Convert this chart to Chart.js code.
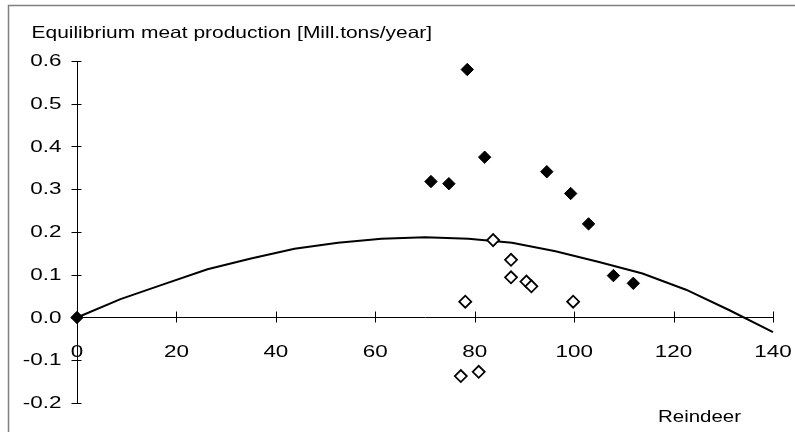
<!DOCTYPE html>
<html>
<head>
<meta charset="utf-8">
<script src="https://cdn.jsdelivr.net/npm/chart.js@4/dist/chart.umd.min.js"></script>
<style>
  html, body { margin: 0; padding: 0; background: #fff; }
  canvas { display: block; }
</style>
</head>
<body>
<canvas id="meat-chart" width="795" height="432"></canvas>
<script>
"use strict";

// Data
var curveX = [0, 8.75, 17.5, 26.25, 35, 43.75, 52.5, 61.25, 70, 78.75, 87.5, 96.25, 105, 113.75, 122.5, 131.25, 140];
var curveY = [0, 0.043, 0.078, 0.113, 0.138, 0.161, 0.175, 0.184, 0.188, 0.184, 0.175, 0.155, 0.130, 0.103, 0.065, 0.017, -0.034];

var filledX = [0, 71.2, 74.8, 78.5, 82.0, 94.5, 99.3, 102.9, 107.9, 111.9];
var filledY = [0, 0.318, 0.313, 0.580, 0.375, 0.341, 0.290, 0.219, 0.098, 0.080];

var openX = [83.7, 87.3, 87.3, 90.4, 91.4, 78.1, 99.8, 77.2, 80.8];
var openY = [0.181, 0.135, 0.094, 0.084, 0.073, 0.037, 0.037, -0.137, -0.127];

var xTicks = [0, 20, 40, 60, 80, 100, 120, 140];
var yTicks = [-0.2, -0.1, 0.0, 0.1, 0.2, 0.3, 0.4, 0.5, 0.6];

var yTitle = "Equilibrium meat production [Mill.tons/year]";
var xTitle = "Reindeer";

function toPoints(xs, ys) {
    return xs.map(function (x, i) { return { x: x, y: ys[i] }; });
}

// Excel-style text: wide glyphs, drawn with a horizontal stretch
function stretchText(ctx, text, x, y, align, baseline, sx) {
    ctx.save();
    ctx.translate(x, y);
    ctx.scale(sx, 1);
    ctx.textAlign = align;
    ctx.textBaseline = baseline;
    ctx.fillText(text, 0, 0);
    ctx.restore();
}

// Draws the frame, cross tick marks, tick labels and titles
var excelAxes = {
    id: "excelAxes",
    afterDraw: function (chart) {
        var ctx = chart.ctx;
        var xs = chart.scales.x;
        var ys = chart.scales.y;
        var x0 = Math.round(xs.getPixelForValue(0)) + 0.5;
        var y0 = Math.round(ys.getPixelForValue(0)) + 0.5;

        ctx.save();
        // outer frame (cut at right and bottom)
        ctx.strokeStyle = "#7f7f7f";
        ctx.lineWidth = 1.5;
        ctx.beginPath();
        ctx.moveTo(8.5, 432);
        ctx.lineTo(8.5, 5.5);
        ctx.lineTo(795, 5.5);
        ctx.stroke();

        // cross tick marks
        ctx.strokeStyle = "#000";
        ctx.lineWidth = 1;
        ctx.beginPath();
        yTicks.forEach(function (v) {
            var py = Math.round(ys.getPixelForValue(v)) + 0.5;
            ctx.moveTo(x0 - 6, py);
            ctx.lineTo(x0 + 4, py);
        });
        xTicks.forEach(function (v) {
            var px = Math.round(xs.getPixelForValue(v)) + 0.5;
            ctx.moveTo(px, y0 - 7);
            ctx.lineTo(px, y0 + 4);
        });
        ctx.stroke();

        // tick labels
        ctx.fillStyle = "#000";
        ctx.font = "16.5px 'Liberation Sans', Arial, sans-serif";
        yTicks.forEach(function (v) {
            stretchText(ctx, v.toFixed(1), x0 - 16, ys.getPixelForValue(v) + 0.5, "right", "middle", 1.36);
        });
        xTicks.forEach(function (v) {
            stretchText(ctx, String(v), xs.getPixelForValue(v), y0 + 38.5, "center", "alphabetic", 1.36);
        });

        // axis titles
        stretchText(ctx, yTitle, 31.5, 37.5, "left", "alphabetic", 1.27);
        stretchText(ctx, xTitle, 658, 421.5, "left", "alphabetic", 1.24);
        ctx.restore();
    }
};

var chart = new Chart(document.getElementById("meat-chart"), {
    type: "scatter",
    data: {
        datasets: [{
            label: "Open",
            data: toPoints(openX, openY),
            pointStyle: "rectRot",
            pointRadius: 6,
            pointBorderWidth: 1.8,
            pointBackgroundColor: "#fff",
            pointBorderColor: "#000",
            clip: false,
            order: 1
        }, {
            label: "Filled",
            data: toPoints(filledX, filledY),
            pointStyle: "rectRot",
            pointRadius: 6.2,
            pointBorderWidth: 1,
            pointBackgroundColor: "#000",
            pointBorderColor: "#000",
            clip: false,
            order: 2
        }, {
            label: "Curve",
            data: toPoints(curveX, curveY),
            showLine: true,
            borderColor: "#000",
            borderWidth: 2,
            pointRadius: 0,
            tension: 0,
            clip: false,
            order: 3
        }]
    },
    options: {
        responsive: false,
        animation: false,
        layout: { padding: { left: 77, top: 61, right: 22, bottom: 29 } },
        plugins: {
            legend: { display: false },
            tooltip: { enabled: false }
        },
        scales: {
            x: {
                type: "linear",
                position: { y: 0 },
                min: 0,
                max: 140,
                grid: { display: false },
                border: { display: true, color: "#000", width: 1 },
                ticks: { display: false, stepSize: 20 }
            },
            y: {
                type: "linear",
                position: { x: 0 },
                min: -0.2,
                max: 0.6,
                grid: { display: false },
                border: { display: true, color: "#000", width: 1 },
                ticks: { display: false, stepSize: 0.1 }
            }
        }
    },
    plugins: [excelAxes]
});
</script>
</body>
</html>
